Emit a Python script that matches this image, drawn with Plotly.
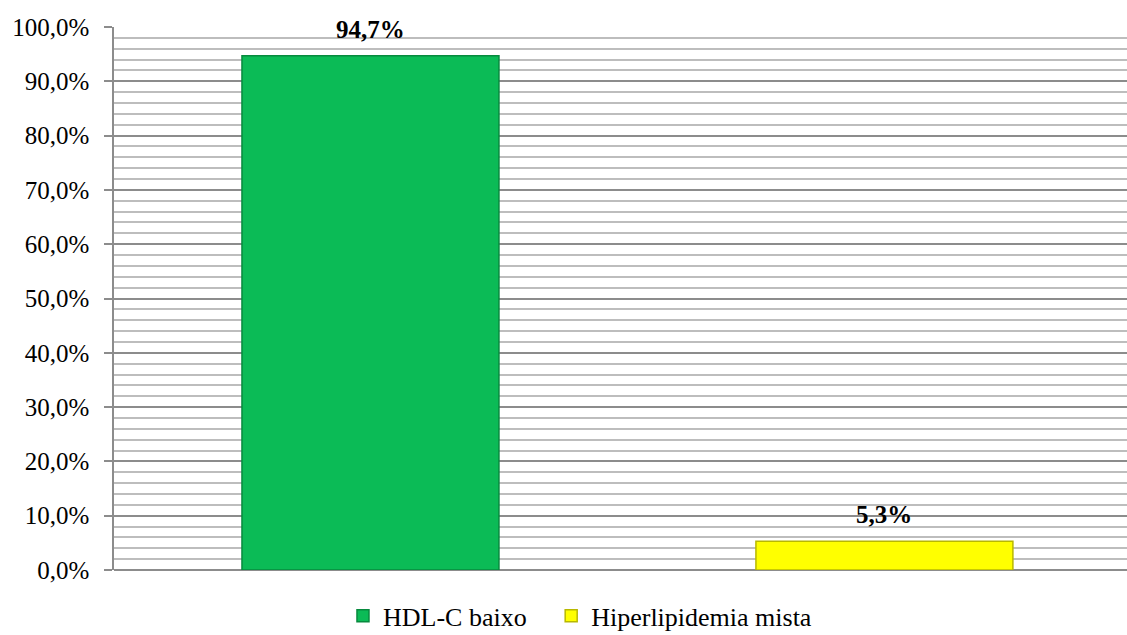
import plotly.graph_objects as go

series_names = ["HDL-C baixo", "Hiperlipidemia mista"]
values = [94.7, 5.3]
value_labels = ["94,7%", "5,3%"]
colors = ["#0BBB56", "#FFFF00"]
edge_colors = ["#078a3e", "#b8b800"]
y_ticks = [0, 10, 20, 30, 40, 50, 60, 70, 80, 90, 100]
y_tick_labels = ["0,0%", "10,0%", "20,0%", "30,0%", "40,0%", "50,0%",
                 "60,0%", "70,0%", "80,0%", "90,0%", "100,0%"]

FONT = "Liberation Serif"
PAD = "\u00a0" * 3

fig = go.Figure()
for i, (name, v) in enumerate(zip(series_names, values)):
    fig.add_trace(go.Bar(
        x=[i], y=[v], name=name + (PAD if i == 0 else ""), width=0.5,
        marker=dict(color=colors[i], line=dict(color=edge_colors[i], width=1.5)),
        hoverinfo="skip",
    ))
    fig.add_annotation(x=i, y=v, text="<b>" + value_labels[i] + "</b>",
                       showarrow=False, yanchor="bottom", yshift=11,
                       font=dict(family=FONT, size=25, color="black"))

fig.update_layout(
    width=1127, height=635,
    margin=dict(l=114, r=0, t=27, b=65),
    paper_bgcolor="white", plot_bgcolor="white",
    barmode="overlay",
    showlegend=True,
    legend=dict(orientation="h", x=0.46, xanchor="center",
                yref="container", y=0.03, yanchor="middle",
                font=dict(family=FONT, size=26, color="black"),
                itemwidth=30, tracegroupgap=0, traceorder="normal"),
    font=dict(family=FONT, color="black"),
)
fig.update_xaxes(range=[-0.499, 1.472], showticklabels=False, showgrid=False,
                 zeroline=False, showline=False, ticks="")
fig.update_yaxes(range=[0, 100], tickvals=y_ticks, ticktext=y_tick_labels,
                 tickfont=dict(family=FONT, size=25, color="black"),
                 ticklabelstandoff=10,
                 showgrid=True, gridcolor="#8c8c8c", gridwidth=1.5,
                 minor=dict(dtick=2, showgrid=True, gridcolor="#bdbdbd", gridwidth=1.5, ticks=""),
                 showline=True, linecolor="#8c8c8c", linewidth=1.5,
                 ticks="outside", ticklen=8, tickcolor="#8c8c8c", tickwidth=1.5,
                 zeroline=True, zerolinecolor="#8c8c8c", zerolinewidth=1.5)

fig.write_html("out.html")
